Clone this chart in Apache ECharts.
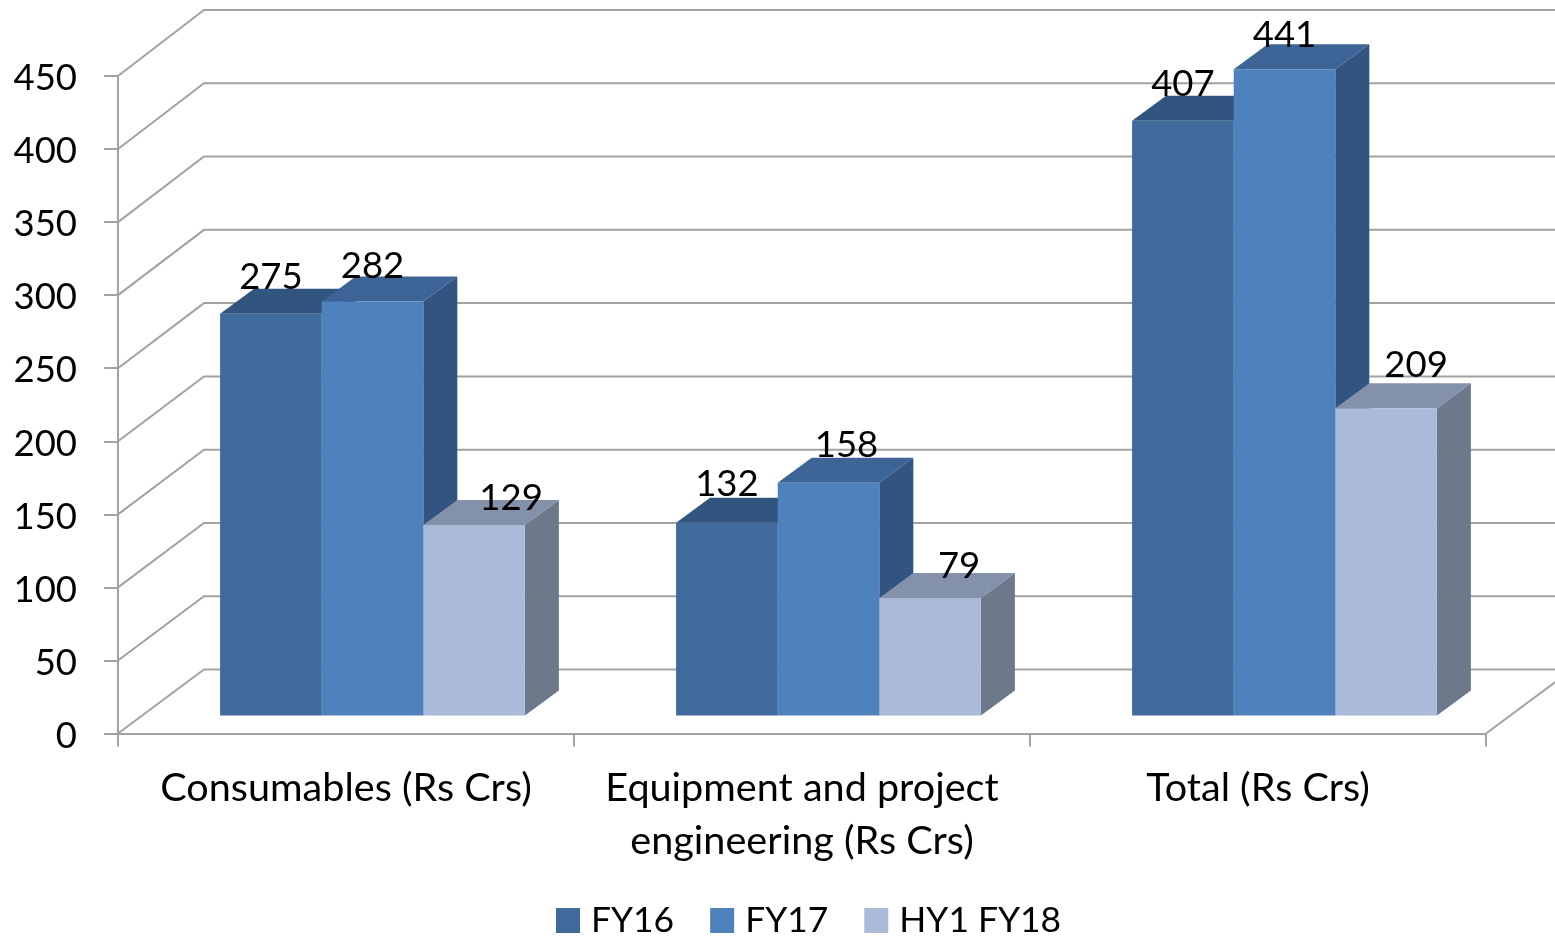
<!DOCTYPE html>
<html>
<head>
<meta charset="utf-8">
<style>html,body{margin:0;padding:0;background:#fff}#c{width:1555px;height:938px}</style>
<script src="https://cdn.jsdelivr.net/npm/echarts@6/dist/echarts.min.js"></script>
</head>
<body>
<div id="c"></div>
<script>
var categories = ['Consumables (Rs Crs)', 'Equipment and project\nengineering (Rs Crs)', 'Total (Rs Crs)'];
var seriesNames = ['FY16', 'FY17', 'HY1 FY18'];
var fy16 = [275, 132, 407];
var fy17 = [282, 158, 441];
var hy1fy18 = [129, 79, 209];
var yTicks = [0, 50, 100, 150, 200, 250, 300, 350, 400, 450];

var FONT = 'Lato';
var FS = 36.5;
var CAT_FS = 39.6;
var GRID = '#a2a2a2';
var WALL_DX = 86;
var BASE = [26.5, -18];
var DEPTH = [34, -25];
var BAR_RATIO = 0.2228;
var topLift = [0, 2, 2];
var palette = [
  {front: '#40699c', top: '#325580', side: '#325580'},
  {front: '#4f81bd', top: '#3c6496', side: '#335480'},
  {front: '#aabad8', top: '#8391ab', side: '#6d788a'}
];
// label nudges relative to the bar's front-top centre, per series then category
var labelNudge = [
  [[0, -36], [0, -38], [0, -37]],
  [[0, -35], [18, -37], [0, -34]],
  [[37, -27], [29, -32], [30, -43]]
];

function wallDy(v) { return -64 - 2 * v / yTicks[yTicks.length - 1]; }

function barRender(si) {
  return function (params, api) {
    var cat = api.value(0), v = api.value(1);
    var band = api.size([1, 0])[0];
    var w = band * BAR_RATIO;
    var top = api.coord([cat, v]);
    var bot = api.coord([cat, 0]);
    var x0 = top[0] + BASE[0] + (si - 1.5) * w;
    var x1 = x0 + w;
    var yT = top[1] + BASE[1] - topLift[si], yB = bot[1] + BASE[1];
    var dx = DEPTH[0], dy = DEPTH[1];
    var c = palette[si];
    var n = labelNudge[si][cat];
    return {type: 'group', children: [
      {type: 'polygon', z2: 1, shape: {points: [[x1, yB], [x1 + dx, yB + dy], [x1 + dx, yT + dy], [x1, yT]]}, style: {fill: c.side}},
      {type: 'polygon', z2: 1, shape: {points: [[x0, yT], [x0 + dx, yT + dy], [x1 + dx, yT + dy], [x1, yT]]}, style: {fill: c.top}},
      {type: 'polygon', z2: 2, shape: {points: [[x0, yB], [x1, yB], [x1, yT], [x0, yT]]}, style: {fill: c.front}},
      {type: 'text', z2: 100, style: {text: String(v), x: (x0 + x1) / 2 + n[0], y: yT + n[1], align: 'center', verticalAlign: 'middle', fill: '#000', fontFamily: FONT, fontSize: FS}}
    ]};
  };
}

function wallRender(params, api) {
  var v = api.value(0);
  var left = api.coord([0, v]);
  var band = api.size([1, 0])[0];
  var x0 = left[0] - band / 2, y = left[1];
  var x1 = x0 + band * categories.length;
  var dy = wallDy(v);
  var kids = [{type: 'polyline', shape: {points: [[x0, y], [x0 + WALL_DX, y + dy], [x1 + WALL_DX, y + dy]]}, style: {fill: 'none', stroke: GRID, lineWidth: 2}}];
  if (v === yTicks[0]) {
    kids.push({type: 'line', shape: {x1: x1, y1: y, x2: x1 + WALL_DX, y2: y + dy}, style: {stroke: GRID, lineWidth: 2}});
  }
  return {type: 'group', children: kids};
}

var values = [fy16, fy17, hy1fy18];
var barSeries = seriesNames.map(function (name, si) {
  return {
    name: name, type: 'custom', coordinateSystem: 'cartesian2d', z: 3,
    itemStyle: {color: palette[si].front},
    encode: {x: 0, y: 1},
    renderItem: barRender(si),
    data: categories.map(function (c, i) { return [i, values[si][i]]; })
  };
});

var chart = echarts.init(document.getElementById('c'), null, {renderer: 'canvas'});
chart.setOption({
  animation: false,
  backgroundColor: '#fff',
  textStyle: {fontFamily: FONT},
  grid: {left: 118, right: 69, top: 76, bottom: 204.5, containLabel: false},
  legend: {
    data: seriesNames, left: 551, top: 898, itemWidth: 24, itemHeight: 25, itemGap: 36, icon: 'rect',
    textStyle: {fontFamily: FONT, fontSize: 35.4, color: '#000', padding: [0, 0, 0, 6]}
  },
  xAxis: {
    type: 'category', data: categories,
    axisLine: {lineStyle: {color: GRID, width: 2}},
    axisTick: {show: true, alignWithLabel: false, length: 13, lineStyle: {color: GRID, width: 2}},
    axisLabel: {interval: 0, hideOverlap: false, margin: 28, color: '#000', fontFamily: FONT, fontSize: CAT_FS, lineHeight: 53},
    splitLine: {show: false}
  },
  yAxis: {
    type: 'value', min: 0, max: 450, interval: 50,
    axisLine: {show: true, lineStyle: {color: GRID, width: 2}},
    axisTick: {show: true, length: 14, lineStyle: {color: GRID, width: 2}},
    axisLabel: {margin: 41, color: '#000', fontFamily: FONT, fontSize: FS, verticalAlign: 'top', lineHeight: 5},
    splitLine: {show: false}
  },
  series: [{
    name: 'walls', type: 'custom', coordinateSystem: 'cartesian2d', z: 1, silent: true,
    encode: {y: 0}, renderItem: wallRender,
    data: yTicks.map(function (t) { return [t]; })
  }].concat(barSeries)
});
</script>
</body>
</html>
